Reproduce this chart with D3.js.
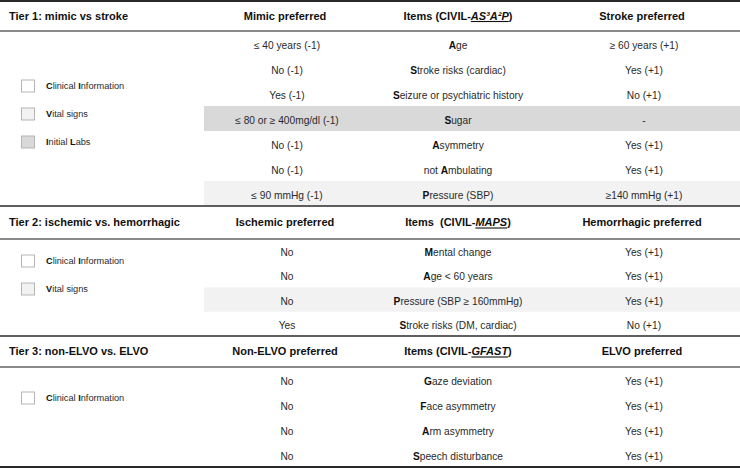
<!DOCTYPE html>
<html>
<head>
<meta charset="utf-8">
<script src="https://cdn.jsdelivr.net/npm/d3@7"></script>
<style>
  html, body { margin: 0; padding: 0; background: #fff; }
  svg { display: block; font-family: "Liberation Sans", Arial, sans-serif; }
  text { white-space: pre; }
</style>
</head>
<body>
<svg id="chart" width="740" height="469"></svg>
<script>
// ---------- data ----------
const tierTitles = ["Tier 1: mimic vs stroke", "Tier 2: ischemic vs. hemorrhagic", "Tier 3: non-ELVO vs. ELVO"];
const leftHeads = ["Mimic preferred", "Ischemic preferred", "Non-ELVO preferred"];
const itemHeadPrefix = ["Items (CIVIL-", "Items  (CIVIL-", "Items (CIVIL-"];
const itemHeadKey = ["AS³A²P", "MAPS", "GFAST"];
const rightHeads = ["Stroke preferred", "Hemorrhagic preferred", "ELVO preferred"];

const tier1Left = ["≤ 40 years (-1)", "No (-1)", "Yes (-1)", "≤ 80 or ≥ 400mg/dl (-1)", "No (-1)", "No (-1)", "≤ 90 mmHg (-1)"];
const tier1Items = ["[A]ge", "[S]troke risks (cardiac)", "[S]eizure or psychiatric history", "[S]ugar", "[A]symmetry", "not [A]mbulating", "[P]ressure (SBP)"];
const tier1Right = ["≥ 60 years (+1)", "Yes (+1)", "No (+1)", "-", "Yes (+1)", "Yes (+1)", "≥140 mmHg (+1)"];
const tier1Source = ["clinical", "clinical", "clinical", "labs", "clinical", "clinical", "vital"];

const tier2Left = ["No", "No", "No", "Yes"];
const tier2Items = ["[M]ental change", "[A]ge < 60 years", "[P]ressure (SBP ≥ 160mmHg)", "[S]troke risks (DM, cardiac)"];
const tier2Right = ["Yes (+1)", "Yes (+1)", "Yes (+1)", "No (+1)"];
const tier2Source = ["clinical", "clinical", "vital", "clinical"];

const tier3Left = ["No", "No", "No", "No"];
const tier3Items = ["[G]aze deviation", "[F]ace asymmetry", "[A]rm asymmetry", "[S]peech disturbance"];
const tier3Right = ["Yes (+1)", "Yes (+1)", "Yes (+1)", "Yes (+1)"];
const tier3Source = ["clinical", "clinical", "clinical", "clinical"];

const sourceKeys = ["clinical", "vital", "labs"];
const sourceLabels = ["[C]linical [I]nformation", "[V]ital signs", "[I]nitial [L]abs"];
const tier1Legend = ["clinical", "vital", "labs"];
const tier2Legend = ["clinical", "vital"];
const tier3Legend = ["clinical"];

// ---------- assemble ----------
const tiers = [
  {left: tier1Left, items: tier1Items, right: tier1Right, source: tier1Source, legend: tier1Legend},
  {left: tier2Left, items: tier2Items, right: tier2Right, source: tier2Source, legend: tier2Legend},
  {left: tier3Left, items: tier3Items, right: tier3Right, source: tier3Source, legend: tier3Legend}
];

// layout
const W = 740;
const headerH = [30, 33, 31];
const rowH = [25, 24.25, 25];
const legendOffset = [55, 22, 31];
const legendStep = 28;
const bandX0 = 204;
const INK = "#2a2a2a";

const colX = d3.scaleOrdinal().domain(["left", "items", "right"]).range([287, 458, 644]);
const fillScale = d3.scaleOrdinal().domain(sourceKeys).range(["#ffffff", "#f2f2f2", "#d9d9d9"]);
const labelOf = d3.scaleOrdinal().domain(sourceKeys).range(sourceLabels);

const svg = d3.select("#chart");

function richText(sel, str) {
  const parts = str.split(/(\[[^\]]+\])/).filter(s => s.length);
  parts.forEach(p => {
    const bold = p.startsWith("[");
    sel.append("tspan")
      .attr("font-weight", bold ? "bold" : null)
      .attr("fill", bold ? "#111" : null)
      .text(bold ? p.slice(1, -1) : p);
  });
}

let y = 1;
const tierGeom = [];
tiers.forEach((t, i) => {
  const top = y;
  const hb = top + headerH[i];
  const bottom = hb + rowH[i] * t.items.length;
  tierGeom.push({top, hb, bottom});
  y = bottom;
});

// bands first
tiers.forEach((t, i) => {
  const g = tierGeom[i];
  const yb = d3.scaleBand().domain(d3.range(t.items.length)).range([g.hb, g.bottom]);
  svg.append("g").selectAll("rect")
    .data(t.source.map((s, k) => ({s, k})).filter(d => d.s !== "clinical"))
    .join("rect")
    .attr("x", bandX0).attr("width", W - bandX0)
    .attr("y", d => yb(d.k)).attr("height", yb.bandwidth())
    .attr("fill", d => fillScale(d.s));
});

tiers.forEach((t, i) => {
  const g = tierGeom[i];
  const hc = (g.top + g.hb) / 2;
  const head = svg.append("g").attr("font-size", 11).attr("font-weight", "bold").attr("fill", "#111");
  head.append("text").attr("x", 9).attr("y", hc).attr("dy", "0.36em").text(tierTitles[i]);
  head.append("text").attr("x", colX("left") - 2).attr("y", hc).attr("dy", "0.36em").attr("text-anchor", "middle").text(leftHeads[i]);
  const it = head.append("text").attr("x", colX("items")).attr("y", hc).attr("dy", "0.36em").attr("text-anchor", "middle");
  it.append("tspan").text(itemHeadPrefix[i]);
  it.append("tspan").attr("font-style", "italic").attr("text-decoration", "underline").text(itemHeadKey[i]);
  it.append("tspan").text(")");
  head.append("text").attr("x", colX("right") - 2).attr("y", hc).attr("dy", "0.36em").attr("text-anchor", "middle").text(rightHeads[i]);

  // rows
  const yb = d3.scaleBand().domain(d3.range(t.items.length)).range([g.hb, g.bottom]);
  const rows = svg.append("g").attr("font-size", 10.2).attr("fill", INK);
  const rowData = t.items.map((it2, k) => ({k, left: t.left[k], item: it2, right: t.right[k]}));
  rows.selectAll("text.l").data(rowData).join("text").attr("class", "l")
    .attr("x", colX("left")).attr("y", d => yb(d.k) + yb.bandwidth() / 2 + 1.5)
    .attr("dy", "0.35em").attr("text-anchor", "middle").text(d => d.left);
  rows.selectAll("text.m").data(rowData).join("text").attr("class", "m")
    .attr("x", colX("items")).attr("y", d => yb(d.k) + yb.bandwidth() / 2 + 1.5)
    .attr("dy", "0.35em").attr("text-anchor", "middle")
    .each(function(d) { richText(d3.select(this), d.item); });
  rows.selectAll("text.r").data(rowData).join("text").attr("class", "r")
    .attr("x", colX("right")).attr("y", d => yb(d.k) + yb.bandwidth() / 2 + 1.5)
    .attr("dy", "0.35em").attr("text-anchor", "middle").text(d => d.right);

  // legend
  const lg = svg.append("g").attr("font-size", 9.2).attr("fill", INK);
  const ly = k => g.hb + legendOffset[i] + k * legendStep;
  lg.selectAll("rect").data(t.legend).join("rect")
    .attr("x", 21.5).attr("y", (d, k) => ly(k) - 6).attr("width", 13).attr("height", 12)
    .attr("fill", d => fillScale(d)).attr("stroke", "#b5b5b5").attr("stroke-width", 1);
  lg.selectAll("text").data(t.legend).join("text")
    .attr("x", 46).attr("y", (d, k) => ly(k)).attr("dy", "0.35em")
    .each(function(d) { richText(d3.select(this), labelOf(d)); });

  // header underline
  svg.append("line").attr("x1", 0).attr("x2", W).attr("y1", g.hb).attr("y2", g.hb)
    .attr("stroke", "#8a8a8a").attr("stroke-width", 2);
  // tier top rule
  svg.append("line").attr("x1", 0).attr("x2", W).attr("y1", g.top).attr("y2", g.top)
    .attr("stroke", "#2a2a2a").attr("stroke-width", i === 0 ? 2 : 1.5);
});

const last = tierGeom[tierGeom.length - 1];
svg.append("line").attr("x1", 0).attr("x2", W).attr("y1", last.bottom).attr("y2", last.bottom)
  .attr("stroke", "#2a2a2a").attr("stroke-width", 2);
</script>
</body>
</html>
